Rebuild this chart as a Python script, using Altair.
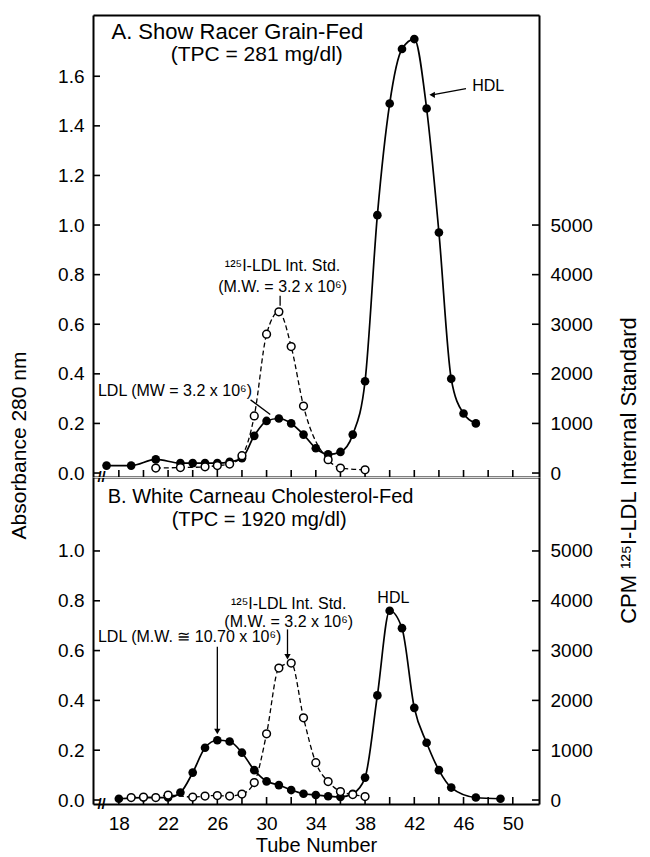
import altair as alt
import pandas as pd

# ---- Panel A: Show Racer, grain-fed ----
a_tube = [17, 19, 21, 23, 24, 25, 26, 27, 28, 29, 30, 31, 32, 33, 34, 35, 36, 37,
          38, 39, 40, 41, 42, 43, 44, 45, 46, 47]
a_abs = [0.03, 0.03, 0.055, 0.04, 0.04, 0.04, 0.04, 0.045, 0.06, 0.15, 0.21, 0.22,
         0.20, 0.155, 0.10, 0.075, 0.085, 0.155, 0.37, 1.04, 1.49, 1.71, 1.75, 1.47,
         0.97, 0.38, 0.24, 0.20]
a_std_tube = [21, 23, 25, 26, 27, 28, 29, 30, 31, 32, 33, 35, 36, 38]
a_std_cpm = [100, 110, 125, 150, 180, 350, 1150, 2800, 3250, 2550, 1350, 270, 100, 65]

# ---- Panel B: White Carneau, cholesterol-fed ----
b_tube = [18, 20, 22, 23, 24, 25, 26, 27, 28, 29, 30, 31, 32, 33, 34, 35, 36, 37,
          38, 39, 40, 41, 42, 43, 44, 45, 47, 49]
b_abs = [0.005, 0.01, 0.01, 0.03, 0.11, 0.21, 0.24, 0.235, 0.19, 0.12, 0.075, 0.06,
         0.04, 0.025, 0.02, 0.015, 0.012, 0.025, 0.09, 0.42, 0.76, 0.69, 0.37, 0.23,
         0.12, 0.05, 0.01, 0.005]
b_std_tube = [19, 20, 21, 22, 24, 25, 26, 27, 28, 29, 30, 31, 32, 33, 34, 35, 36, 37, 38]
b_std_cpm = [50, 60, 50, 100, 60, 80, 90, 80, 120, 350, 1330, 2650, 2750, 1650, 750,
             370, 170, 110, 70]

# ---- axis ticks / labels ----
x_label_values = [18, 22, 26, 30, 34, 38, 42, 46, 50]
x_tick_values = list(range(18, 52, 2))
a_abs_ticks = [0.0, 0.2, 0.4, 0.6, 0.8, 1.0, 1.2, 1.4, 1.6]
b_abs_ticks = [0.0, 0.2, 0.4, 0.6, 0.8, 1.0]
cpm_ticks = [0, 1000, 2000, 3000, 4000, 5000]

FONT = "Liberation Sans"
W = 446
HA, HB = 462, 327
X_DOM = [15.9, 52.13]
A_DOM = [-0.016, 1.847]
B_DOM = [-0.016, 1.297]
CPM_PER_ABS = 5000
TICK = 7
FRAME = dict(domain=True, domainColor="black", domainWidth=2, grid=False, ticks=False)


def x_scale():
    return alt.Scale(domain=X_DOM, nice=False, zero=False)


def x_enc(show_labels):
    if show_labels:
        axis = alt.Axis(values=x_label_values, labelFontSize=19, labelPadding=10,
                        title="Tube Number", titleFontSize=20, titleFontWeight="normal",
                        titleY=41, titleBaseline="middle", **FRAME)
    else:
        axis = alt.Axis(values=x_label_values, labels=False, title=None, **FRAME)
    return alt.X("tube:Q", scale=x_scale(), axis=axis)


def x_top_enc():
    # top border of the upper panel
    return alt.X("tube:Q", scale=x_scale(),
                 axis=alt.Axis(orient="top", labels=False, title=None,
                               values=x_label_values, **FRAME))


def y_left(dom, ticks, with_title):
    kw = dict(values=ticks, format=".1f", labelFontSize=19, labelPadding=9, **FRAME)
    if with_title:
        kw.update(title="Absorbance 280 nm", titleFontSize=21, titleFontWeight="normal",
                  titleAngle=270, titleX=-74, titleY=430, titleBaseline="middle",
                  titleAlign="center")
    else:
        kw.update(title=None)
    return alt.Y("value:Q", scale=alt.Scale(domain=dom, nice=False, zero=False),
                 axis=alt.Axis(**kw))


def y_right(dom, with_title):
    kw = dict(orient="right", values=cpm_ticks, format="d", labelFontSize=19,
              labelPadding=11, **FRAME)
    if with_title:
        kw.update(title="CPM ¹²⁵I-LDL Internal Standard", titleFontSize=22,
                  titleFontWeight="normal", titleAngle=270, titleX=89, titleY=455,
                  titleBaseline="middle", titleAlign="center")
    else:
        kw.update(title=None)
    cdom = [dom[0] * CPM_PER_ABS, dom[1] * CPM_PER_ABS]
    return alt.Y("cpm:Q", scale=alt.Scale(domain=cdom, nice=False, zero=False),
                 axis=alt.Axis(**kw))


def text_layer(rows, X, Y, align, size):
    df = pd.DataFrame(rows, columns=["tube", "value", "label"])
    return alt.Chart(df).mark_text(align=align, baseline="middle", fontSize=size,
                                   font=FONT, color="black").encode(
        x=X, y=Y, text="label:N")


def arrow_layer(rows, X, Y, shape):
    df = pd.DataFrame(rows, columns=["tube", "value", "tube2", "value2"])
    line = alt.Chart(df).mark_rule(color="black", strokeWidth=1.3).encode(
        x=X, y=Y, x2="tube2:Q", y2="value2:Q")
    if shape is None:
        return [line]
    tips = pd.DataFrame({"tube": df["tube2"], "value": df["value2"]})
    head = alt.Chart(tips).mark_point(shape=shape, filled=True, color="black",
                                      size=40, opacity=1).encode(x=X, y=Y)
    return [line, head]


def panel(tube, ab, std_tube, std_cpm, dom, ticks, height, first,
          titles, notes_left, notes_center, arrows):
    X = x_enc(not first)
    Y = y_left(dom, ticks, first)
    YR = y_right(dom, first)
    XR = x_top_enc() if first else X

    sample = pd.DataFrame({"tube": tube, "value": ab})
    std = pd.DataFrame({"tube": std_tube, "cpm": std_cpm})

    line = alt.Chart(sample).mark_line(color="black", strokeWidth=1.7,
                                       interpolate="monotone").encode(x=X, y=Y)
    dots = alt.Chart(sample).mark_point(filled=True, color="black", size=75,
                                        opacity=1).encode(x=X, y=Y)

    # inward tick marks on the frame
    xt = alt.Chart(pd.DataFrame({"tube": x_tick_values})).mark_rule(
        color="black", strokeWidth=1.6).encode(
        x=X, y=alt.value(height), y2=alt.value(height - TICK))
    yt = alt.Chart(pd.DataFrame({"value": ticks})).mark_rule(
        color="black", strokeWidth=1.6).encode(
        y=Y, x=alt.value(0), x2=alt.value(TICK))
    brk = alt.Chart(pd.DataFrame({"tube": [16.6], "value": [dom[0]]})).mark_text(
        text="//", fontSize=15, font=FONT, fontWeight="bold", color="black",
        baseline="middle").encode(x=X, y=Y)

    layers = [line, dots, xt, yt, brk]
    for rows, align, size in titles:
        layers.append(text_layer(rows, X, Y, align, size))
    if notes_left:
        layers.append(text_layer(notes_left, X, Y, "left", 16))
    if notes_center:
        layers.append(text_layer(notes_center, X, Y, "center", 16))
    for rows, shape in arrows:
        layers.extend(arrow_layer(rows, X, Y, shape))
    left = alt.layer(*layers)

    sline = alt.Chart(std).mark_line(color="black", strokeWidth=1.3, strokeDash=[5, 3],
                                     interpolate="monotone").encode(x=XR, y=YR)
    sdots = alt.Chart(std).mark_point(filled=True, fill="white", stroke="black",
                                      strokeWidth=1.5, size=60, opacity=1).encode(x=XR, y=YR)
    rt = alt.Chart(pd.DataFrame({"cpm": cpm_ticks})).mark_rule(
        color="black", strokeWidth=1.6).encode(
        y=YR, x=alt.value(W), x2=alt.value(W - TICK))
    right = alt.layer(sline, sdots, rt)

    combo = alt.layer(left, right).resolve_scale(y="independent")
    if first:
        combo = combo.resolve_axis(x="independent")
    return combo.properties(width=W, height=height)


panel_a = panel(
    a_tube, a_abs, a_std_tube, a_std_cpm, A_DOM, a_abs_ticks, HA, True,
    titles=[([(17.4, 1.78, "A.  Show Racer Grain-Fed")], "left", 22),
            ([(29.2, 1.685, "(TPC = 281 mg/dl)")], "center", 21)],
    notes_left=[(16.3, 0.332, "LDL (MW = 3.2 x 10⁶)")],
    notes_center=[(48.0, 1.56, "HDL"),
                  (31.3, 0.836, "¹²⁵I-LDL Int. Std."),
                  (31.3, 0.752, "(M.W. = 3.2 x 10⁶)")],
    arrows=[([(46.2, 1.55, 43.45, 1.525)], "triangle-left"),
            ([(31.1, 0.715, 31.1, 0.675)], None),
            ([(28.7, 0.295, 30.3, 0.236)], None)],
)

panel_b = panel(
    b_tube, b_abs, b_std_tube, b_std_cpm, B_DOM, b_abs_ticks, HB, False,
    titles=[([(17.1, 1.215, "B. White Carneau Cholesterol-Fed")], "left", 20),
            ([(29.4, 1.125, "(TPC = 1920 mg/dl)")], "center", 20)],
    notes_left=[(16.3, 0.655, "LDL (M.W. ≅ 10.70 x 10⁶)")],
    notes_center=[(40.3, 0.81, "HDL"),
                  (31.8, 0.787, "¹²⁵I-LDL Int. Std."),
                  (31.8, 0.715, "(M.W. = 3.2 x 10⁶)")],
    arrows=[([(31.7, 0.685, 31.7, 0.575)], "triangle-down"),
            ([(26.0, 0.615, 26.0, 0.275)], "triangle-down")],
)

chart = alt.vconcat(panel_a, panel_b, spacing=0, bounds="flush").properties(
    padding={"left": 7, "top": 14, "right": 5, "bottom": 2}
).configure_view(stroke=None).configure_axis(
    labelFont=FONT, titleFont=FONT, labelColor="black", titleColor="black"
).configure(font=FONT, background="white")

chart.save("out.html", embed_options={"renderer": "svg", "actions": False})
